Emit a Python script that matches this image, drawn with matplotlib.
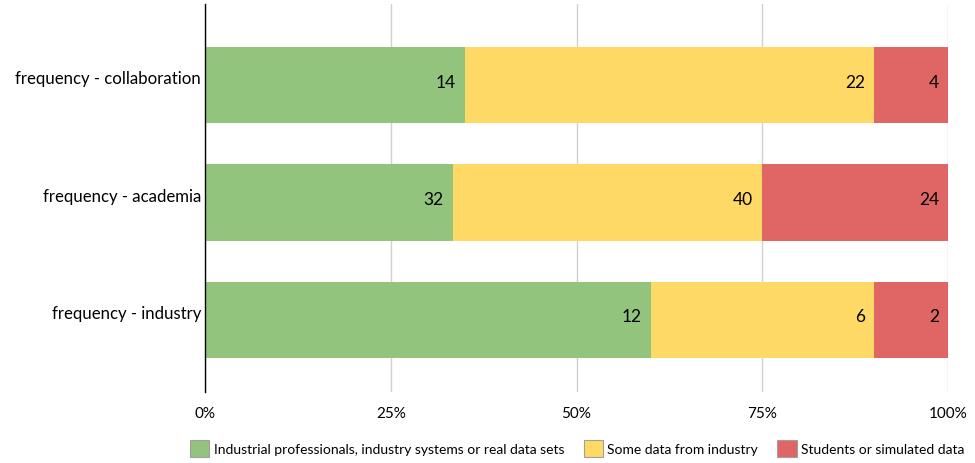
import numpy as np
import matplotlib
matplotlib.use("Agg")
import matplotlib.pyplot as plt
from matplotlib.patches import Patch
from matplotlib.transforms import ScaledTranslation

# data
categories = ["frequency - industry", "frequency - academia", "frequency - collaboration"]
industrial = [12, 32, 14]
some_data = [6, 40, 22]
students = [2, 24, 4]
series_names = ["Industrial professionals, industry systems or real data sets",
                "Some data from industry",
                "Students or simulated data"]
colors = ["#93C47D", "#FFD966", "#E06666"]
tick_vals = [0, 0.25, 0.5, 0.75, 1.0]
tick_labels = ["0%", "25%", "50%", "75%", "100%"]

plt.rcParams["font.family"] = ["Lato", "DejaVu Sans"]

counts = np.array([industrial, some_data, students], dtype=float)
totals = counts.sum(axis=0)
shares = counts / totals

fig = plt.figure(figsize=(9.75, 4.64), dpi=100)
ax = fig.add_axes([0.2103, 0.153, 0.7620, 0.836])

# kleine verschiebung nach oben fuer texte
up_small = ScaledTranslation(0, 2.5 / 72, fig.dpi_scale_trans)
up_big = ScaledTranslation(-3 / 72, 5 / 72, fig.dpi_scale_trans)

y = np.arange(len(categories))
left = np.zeros(len(categories))
for i in range(3):
    ax.barh(y, shares[i], left=left, height=0.65, color=colors[i], zorder=2)
    for j in range(len(categories)):
        ax.text(left[j] + shares[i][j] - 0.012, y[j], str(int(counts[i][j])),
                ha="right", va="center", fontsize=12.5, color="black", zorder=3,
                transform=ax.transData + up_small)
    left += shares[i]

# kategorien als eigene texte
for j, cat in enumerate(categories):
    ax.text(0, y[j], cat, ha="right", va="center", fontsize=12.1,
            transform=ax.get_yaxis_transform() + up_big)

ax.set_xlim(0, 1)
ax.set_ylim(-0.617, 2.693)
ax.set_xticks(tick_vals)
ax.set_xticklabels(tick_labels, fontsize=11)
ax.set_yticks([])
ax.tick_params(axis="both", length=0)
ax.tick_params(axis="x", pad=10)
ax.grid(axis="x", color="#D0D0D0", linewidth=1, zorder=0)
for s in ["top", "right", "bottom"]:
    ax.spines[s].set_visible(False)
ax.spines["left"].set_color("black")
ax.spines["left"].set_linewidth(1)

handles = [Patch(facecolor=colors[i], edgecolor="#A0A0A0", linewidth=0.8) for i in range(3)]
fig.legend(handles, series_names, loc="center", bbox_to_anchor=(0.592, 0.032), ncol=3,
           frameon=False, fontsize=10, handlelength=1.4, handleheight=1.5,
           handletextpad=0.3, columnspacing=1.4)

fig.savefig("out.png", dpi=100)
